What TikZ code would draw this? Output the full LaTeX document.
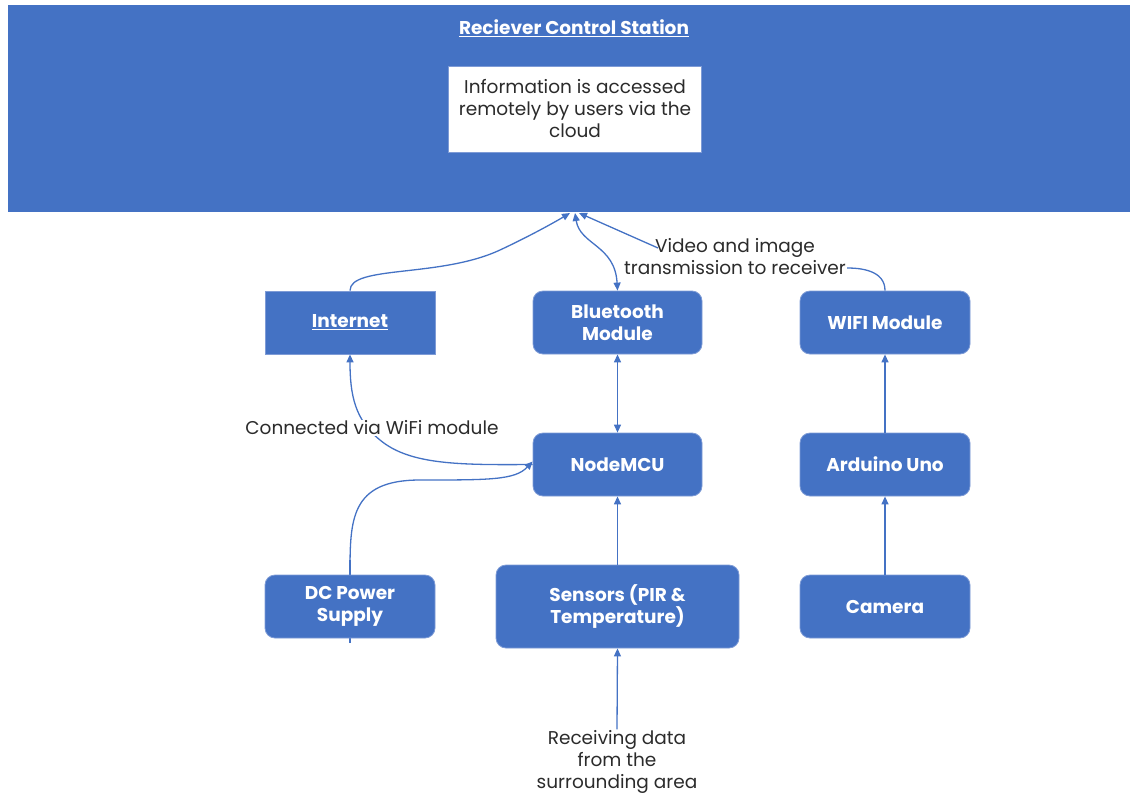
\documentclass[tikz,border=0pt]{standalone}
\usepackage{fontspec}
\setmainfont{Poppins}
\usetikzlibrary{arrows.meta}
\definecolor{mblue}{HTML}{4472C4}
\definecolor{mborder}{HTML}{7E9BD6}
\definecolor{mtext}{HTML}{2B2B2B}
\tikzset{
  box/.style={draw=mborder, line width=0.8pt, fill=mblue, rounded corners=10pt, text=white,
    font=\fontsize{18.5}{22}\selectfont\bfseries, align=center, inner sep=0pt},
  sqbox/.style={box, rounded corners=0pt},
  conn/.style={draw=mblue, line width=1.3pt, -{Triangle[length=8pt,width=7pt]}},
  bconn/.style={conn, {Triangle[length=8pt,width=7pt]}-{Triangle[length=8pt,width=7pt]}},
  plain/.style={draw=mblue, line width=1.3pt},
  lbl/.style={fill=white, text=mtext, font=\fontsize{18.5}{22}\selectfont, align=center, inner sep=1pt},
}
\begin{document}
\begin{tikzpicture}[x=1pt,y=-1pt]
\useasboundingbox (0,0) rectangle (1134,798);
% big station
\node[fill=mblue, minimum width=1122pt, minimum height=207pt, inner sep=0pt, anchor=north west] (rcs) at (8,5) {};
\node[text=white, font=\fontsize{18.5}{22}\selectfont\bfseries] (title) at (574,28) {\underline{Reciever Control Station}};
\node[fill=white, draw=mborder, line width=0.5pt, minimum width=253pt, minimum height=86pt, inner sep=0pt,
      text=mtext, font=\fontsize{18.5}{22}\selectfont, align=center] (info) at (575,109)
  {Information is accessed\\remotely by users via the\\cloud};
% boxes
\node[sqbox, minimum width=170pt, minimum height=63pt] (inet) at (350,322.5) {\underline{Internet}};
\node[box, minimum width=169pt, minimum height=63pt] (bt) at (617.5,322.5) {Bluetooth\\Module};
\node[box, minimum width=170pt, minimum height=63pt] (wifi) at (885,322.5) {WIFI Module};
\node[box, minimum width=169pt, minimum height=63pt] (node) at (617.5,464.5) {NodeMCU};
\node[box, minimum width=170pt, minimum height=63pt] (ard) at (885,464.5) {Arduino Uno};
\node[box, minimum width=243pt, minimum height=83pt] (sens) at (617.5,606.5) {Sensors (PIR \&\\Temperature)};
\node[box, minimum width=170pt, minimum height=63pt] (cam) at (885,606.5) {Camera};
% labels
\node[lbl] (vid) at (735,257) {Video and image\\transmission to receiver};
\node[lbl, fill=none] (rcv) at (617,762) {Receiving data\\from the\\surrounding area};
\coordinate (top) at (574,213);
\coordinate (dcstart) at (350,643);
% connectors
\draw[conn] (inet.north) .. controls (350,265) and (440,278) .. (500,250) .. controls (530,236) and (555,222) .. ([xshift=-4pt]top);
\draw[bconn] ([xshift=1pt]top) .. controls (580,245) and (615,245) .. (bt.north);
\draw[plain] (wifi.north) .. controls (885,270) and (860,268) .. (vid.east |- 0,268);
\draw[conn] (658,248) -- ([xshift=5pt]top);
\draw[bconn] (bt.south) -- (node.north);
\draw[conn] (node.west) .. controls (460,465) and (410,465) .. (380,440) .. controls (355,420) and (350,395) .. (inet.south);
\node[lbl] (wlbl) at (372,428) {Connected via WiFi module};
\draw[plain] (dcstart) -- (350,560);
\node[box, minimum width=170pt, minimum height=63pt] (dc) at (350,606.5) {DC Power\\Supply};
\draw[conn] (dc.north) .. controls (350,520) and (350,480) .. (420,480) .. controls (490,480) and (515,480) .. ([yshift=3pt]node.west);
\draw[conn] (sens.north) -- (node.south);
\draw[conn] (rcv.north) -- (sens.south);
\draw[conn] (ard.north) -- (wifi.south);
\draw[conn] (cam.north) -- (ard.south);
\end{tikzpicture}
\end{document}
